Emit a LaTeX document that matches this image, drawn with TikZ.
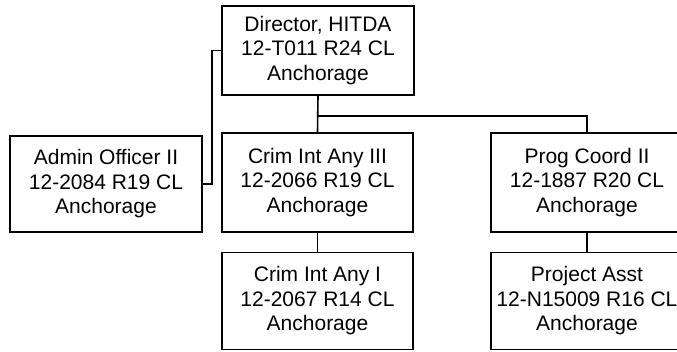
\documentclass[tikz,border=0pt]{standalone}
\usepackage{fontspec}
\setmainfont{Liberation Sans}
\begin{document}
\begin{tikzpicture}[x=1pt,y=1pt,
  posbox/.style={draw=black, line width=1.6pt, rectangle, inner sep=0pt, align=center,
    minimum width=192pt, minimum height=97pt,
    font=\fontsize{21}{24.5}\selectfont},
  conn/.style={draw=black, line width=1.6pt}]
\clip (0,0) rectangle (677,352);
\node[posbox, minimum height=89pt] (dir) at (318,301.5) {Director, HITDA\\12-T011 R24 CL\\Anchorage};
\node[posbox, minimum height=96pt] (admin) at (106,168) {Admin Officer II\\12-2084 R19 CL\\Anchorage};
\node[posbox, minimum width=191pt, minimum height=99pt] (crim3) at (317.5,169.5) {Crim Int Any III\\12-2066 R19 CL\\Anchorage};
\node[posbox, minimum height=99pt] (prog) at (587,169.5) {Prog Coord II\\12-1887 R20 CL\\Anchorage};
\node[posbox, minimum width=191pt] (crim1) at (317.5,51) {Crim Int Any I\\12-2067 R14 CL\\Anchorage};
\node[posbox] (proj) at (587,51) {Project Asst\\12-N15009 R16 CL\\Anchorage};
\coordinate (bus) at (0,236);
\coordinate (elb) at (212,0);
\draw[conn] (dir.south) -- (crim3.north);
\draw[conn] (dir.south |- bus) -| (prog.north);
\draw[conn] (crim3.south) -- (crim1.north);
\draw[conn] (prog.south) -- (proj.north);
\draw[conn] (dir.west) -- (elb |- dir.west) -- (elb |- admin.east) -- (admin.east);
\end{tikzpicture}
\end{document}
